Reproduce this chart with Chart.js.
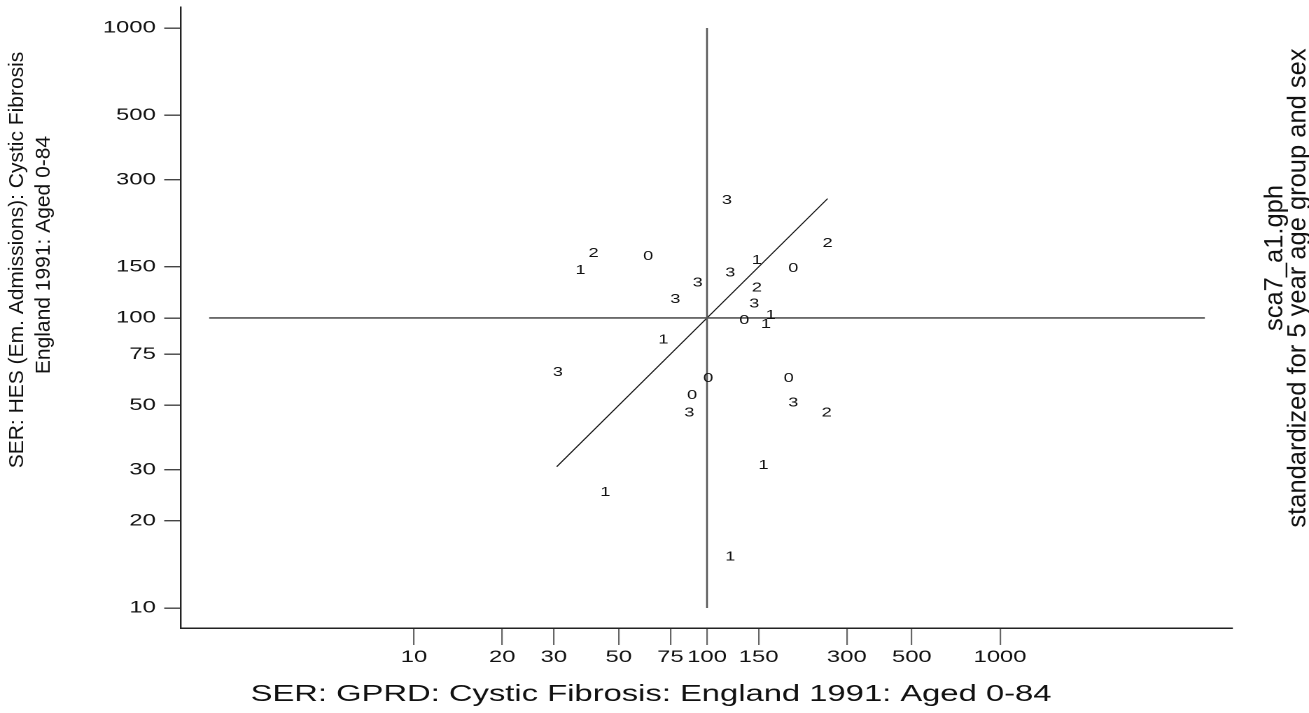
<!DOCTYPE html>
<html>
<head>
<meta charset="utf-8">
<script src="https://cdn.jsdelivr.net/npm/chart.js"></script>
<style>
  html, body { margin: 0; padding: 0; background: #fff; overflow: hidden; }
  #wrap { width: 935px; height: 713px; transform: scaleX(1.4); transform-origin: 0 0; }
</style>
</head>
<body>
<div id="wrap"><canvas id="c"></canvas></div>
<script>
// ---- data ----
const xTicks = [10, 20, 30, 50, 75, 100, 150, 300, 500, 1000];
const xTickLabels = ['10', '20', '30', '50', '75', '100', '150', '300', '500', '1000'];
const yTicks = [10, 20, 30, 50, 75, 100, 150, 300, 500, 1000];
const yTickLabels = ['10', '20', '30', '50', '75', '100', '150', '300', '500', '1000'];

const group0x = [63, 197, 134, 101, 190, 89];
const group0y = [163, 148, 98, 62, 62, 54];
const group1x = [37, 148, 165, 159, 71, 156, 45, 120];
const group1y = [146, 158, 102, 95, 84, 31, 25, 15];
const group2x = [258, 41, 148, 256];
const group2y = [181, 167, 127, 47];
const group3x = [117, 120, 93, 78, 145, 31, 197, 87];
const group3y = [254, 143, 132, 116, 112, 65, 51, 47];
const groupNames = ['0', '1', '2', '3'];

const hRefX = [2, 5000];     // reference line y = 100
const hRefY = [100, 100];
const vRefX = [100, 100];    // reference line x = 100
const vRefY = [10, 1000];
const diagX = [30.7, 258];   // line of equality over the data range
const diagY = [30.7, 258];

const xTitle = 'SER: GPRD: Cystic Fibrosis: England 1991: Aged 0-84';
const yTitleLines = ['SER: HES (Em. Admissions): Cystic Fibrosis', 'England 1991: Aged 0-84'];
const noteLines = ['sca7_a1.gph', 'standardized for 5 year age group and sex'];

// ---- build ----
const SX = 1.4; // horizontal stretch applied to the whole page
const pts = (xs, ys) => xs.map((x, i) => ({ x: x, y: ys[i] }));
const FONT = '"Liberation Sans", Arial, Helvetica, sans-serif';

const groupX = [group0x, group1x, group2x, group3x];
const groupY = [group0y, group1y, group2y, group3y];

const datasets = [
  { type: 'line', data: pts(hRefX, hRefY), borderColor: '#555', borderWidth: 1.6, pointRadius: 0, fill: false },
  { type: 'line', data: pts(vRefX, vRefY), borderColor: '#555', borderWidth: 1.3, pointRadius: 0, fill: false },
  { type: 'line', data: pts(diagX, diagY), borderColor: '#111', borderWidth: 0.9, pointRadius: 0, fill: false }
];
groupNames.forEach((g, i) => {
  datasets.push({ type: 'scatter', data: pts(groupX[i], groupY[i]), markerText: g, pointRadius: 0, showLine: false });
});

const markerPlugin = {
  id: 'markerText',
  afterDatasetsDraw(chart) {
    const ctx = chart.ctx;
    chart.data.datasets.forEach((ds, i) => {
      if (!ds.markerText) return;
      const meta = chart.getDatasetMeta(i);
      ctx.save();
      ctx.font = '13px ' + FONT;
      ctx.fillStyle = '#111';
      ctx.textAlign = 'center';
      ctx.textBaseline = 'middle';
      meta.data.forEach(p => ctx.fillText(ds.markerText, p.x, p.y));
      ctx.restore();
    });
  }
};

function rotatedText(ctx, text, cx, cy, size) {
  ctx.save();
  ctx.translate(cx, cy);
  ctx.scale(1 / SX, 1);          // undo page stretch for vertical text
  ctx.rotate(-Math.PI / 2);
  ctx.font = size + 'px ' + FONT;
  ctx.textAlign = 'center';
  ctx.textBaseline = 'middle';
  ctx.fillText(text, 0, 0);
  ctx.restore();
}

const titlePlugin = {
  id: 'titles',
  afterDraw(chart) {
    const ctx = chart.ctx;
    ctx.save();
    ctx.fillStyle = '#111';
    ctx.textAlign = 'center';
    ctx.font = '23.4px ' + FONT;
    ctx.textBaseline = 'alphabetic';
    ctx.fillText(xTitle, 465, 701);
    rotatedText(ctx, yTitleLines[0], 12.5, 260, 21);
    rotatedText(ctx, yTitleLines[1], 31.5, 255, 21);
    rotatedText(ctx, noteLines[0], 911, 258, 25.5);
    rotatedText(ctx, noteLines[1], 927.5, 288, 25.5);
    ctx.restore();
  }
};

new Chart(document.getElementById('c'), {
  data: { datasets: datasets },
  options: {
    responsive: true,
    maintainAspectRatio: false,
    animation: false,
    devicePixelRatio: 2,
    layout: { padding: { left: 0, top: 7, right: 55, bottom: 0 } },
    plugins: { legend: { display: false }, tooltip: { enabled: false }, title: { display: false } },
    scales: {
      x: {
        type: 'logarithmic',
        position: 'bottom',
        min: 1.603,
        max: 6190,
        afterBuildTicks: s => { s.ticks = xTicks.map(v => ({ value: v })); },
        afterFit: s => { s.height = 85; s.paddingLeft = 0; s.paddingRight = 0; },
        ticks: {
          autoSkip: false, maxRotation: 0, minRotation: 0, padding: 2,
          color: '#111', font: { family: FONT, size: 17 },
          callback: v => { const i = xTicks.indexOf(v); return i >= 0 ? xTickLabels[i] : ''; }
        },
        grid: { display: true, drawOnChartArea: false, drawTicks: true, tickLength: 17, color: '#666', lineWidth: 1.1 },
        border: { display: true, color: '#222', width: 1.5 }
      },
      y: {
        type: 'logarithmic',
        position: 'left',
        min: 8.53,
        max: 1181,
        afterBuildTicks: s => { s.ticks = yTicks.map(v => ({ value: v })); },
        afterFit: s => { s.width = 129.3; s.paddingTop = 0; s.paddingBottom = 0; },
        ticks: {
          autoSkip: false, padding: 6,
          color: '#111', font: { family: FONT, size: 17 },
          callback: v => { const i = yTicks.indexOf(v); return i >= 0 ? yTickLabels[i] : ''; }
        },
        grid: { display: true, drawOnChartArea: false, drawTicks: true, tickLength: 12, color: '#444', lineWidth: 1.4 },
        border: { display: true, color: '#222', width: 1.2 }
      }
    }
  },
  plugins: [markerPlugin, titlePlugin]
});
</script>
</body>
</html>
